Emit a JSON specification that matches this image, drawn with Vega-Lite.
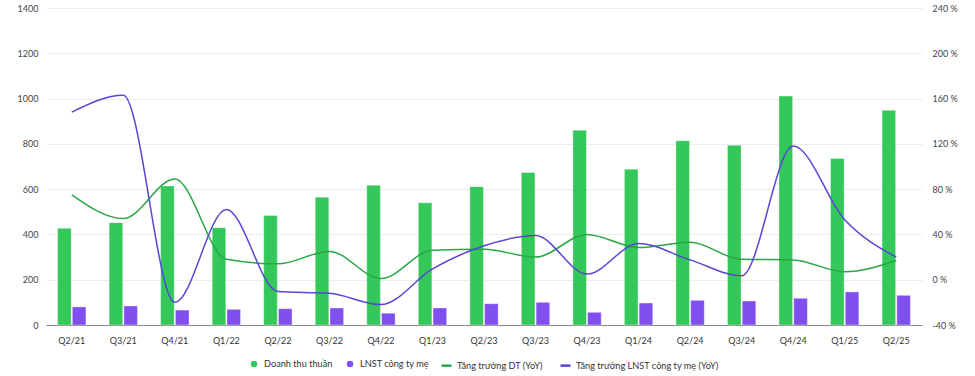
{
  "$schema": "https://vega.github.io/schema/vega-lite/v6.json",
  "width": 876,
  "height": 317,
  "autosize": {"type": "none"},
  "padding": {"left": 46, "top": 8, "right": 53, "bottom": 51},
  "background": "white",
  "config": {
    "font": "Lato",
    "view": {"stroke": null},
    "axis": {"labelFont": "Lato", "labelColor": "#444", "labelFontSize": 9, "titleFont": "Lato"},
    "legend": {"labelFont": "Lato", "layout": {"bottom": {"anchor": "middle", "direction": "horizontal", "margin": 10}}}
  },
  "data": {
    "values": [
      {"q": "Q2/21", "Doanh thu thuần": 427, "LNST công ty mẹ": 80, "Tăng trưởng DT (YoY)": 75, "Tăng trưởng LNST công ty mẹ (YoY)": 148},
      {"q": "Q3/21", "Doanh thu thuần": 452, "LNST công ty mẹ": 84, "Tăng trưởng DT (YoY)": 54, "Tăng trưởng LNST công ty mẹ (YoY)": 163},
      {"q": "Q4/21", "Doanh thu thuần": 614, "LNST công ty mẹ": 66, "Tăng trưởng DT (YoY)": 89, "Tăng trưởng LNST công ty mẹ (YoY)": -20},
      {"q": "Q1/22", "Doanh thu thuần": 430, "LNST công ty mẹ": 69, "Tăng trưởng DT (YoY)": 18, "Tăng trưởng LNST công ty mẹ (YoY)": 62},
      {"q": "Q2/22", "Doanh thu thuần": 484, "LNST công ty mẹ": 72, "Tăng trưởng DT (YoY)": 14, "Tăng trưởng LNST công ty mẹ (YoY)": -10.5},
      {"q": "Q3/22", "Doanh thu thuần": 564, "LNST công ty mẹ": 75, "Tăng trưởng DT (YoY)": 25, "Tăng trưởng LNST công ty mẹ (YoY)": -12},
      {"q": "Q4/22", "Doanh thu thuần": 617, "LNST công ty mẹ": 52, "Tăng trưởng DT (YoY)": 1, "Tăng trưởng LNST công ty mẹ (YoY)": -22},
      {"q": "Q1/23", "Doanh thu thuần": 540, "LNST công ty mẹ": 75, "Tăng trưởng DT (YoY)": 26, "Tăng trưởng LNST công ty mẹ (YoY)": 9.5},
      {"q": "Q2/23", "Doanh thu thuần": 611, "LNST công ty mẹ": 94, "Tăng trưởng DT (YoY)": 27, "Tăng trưởng LNST công ty mẹ (YoY)": 30},
      {"q": "Q3/23", "Doanh thu thuần": 674, "LNST công ty mẹ": 100, "Tăng trưởng DT (YoY)": 20, "Tăng trưởng LNST công ty mẹ (YoY)": 39},
      {"q": "Q4/23", "Doanh thu thuần": 860, "LNST công ty mẹ": 56, "Tăng trưởng DT (YoY)": 40, "Tăng trưởng LNST công ty mẹ (YoY)": 5},
      {"q": "Q1/24", "Doanh thu thuần": 688, "LNST công ty mẹ": 97, "Tăng trưởng DT (YoY)": 28.5, "Tăng trưởng LNST công ty mẹ (YoY)": 32},
      {"q": "Q2/24", "Doanh thu thuần": 814, "LNST công ty mẹ": 109, "Tăng trưởng DT (YoY)": 33, "Tăng trưởng LNST công ty mẹ (YoY)": 17.5},
      {"q": "Q3/24", "Doanh thu thuần": 794, "LNST công ty mẹ": 106, "Tăng trưởng DT (YoY)": 18, "Tăng trưởng LNST công ty mẹ (YoY)": 3.5},
      {"q": "Q4/24", "Doanh thu thuần": 1011, "LNST công ty mẹ": 118, "Tăng trưởng DT (YoY)": 17.5, "Tăng trưởng LNST công ty mẹ (YoY)": 118},
      {"q": "Q1/25", "Doanh thu thuần": 735, "LNST công ty mẹ": 146, "Tăng trưởng DT (YoY)": 7, "Tăng trưởng LNST công ty mẹ (YoY)": 53},
      {"q": "Q2/25", "Doanh thu thuần": 948, "LNST công ty mẹ": 131, "Tăng trưởng DT (YoY)": 17, "Tăng trưởng LNST công ty mẹ (YoY)": 20}
    ]
  },
  "encoding": {
    "x": {
      "field": "q", "type": "nominal", "sort": null, "title": null,
      "scale": {"paddingInner": 0.45, "paddingOuter": 0.225},
      "axis": {"labelAngle": 0, "ticks": false, "domainColor": "#888", "labelPadding": 11, "labelColor": "#333"}
    }
  },
  "layer": [
    {
      "transform": [{"fold": ["Doanh thu thuần", "LNST công ty mẹ"], "as": ["series", "value"]}],
      "mark": {"type": "bar", "stroke": "white", "strokeOpacity": 0.35, "strokeWidth": 1},
      "encoding": {
        "xOffset": {"field": "series", "type": "nominal", "scale": {"paddingInner": 0.08}},
        "y": {
          "field": "value", "type": "quantitative", "title": null,
          "scale": {"domain": [0, 1400]},
          "axis": {"values": [0, 200, 400, 600, 800, 1000, 1200, 1400], "format": "d", "domain": false, "ticks": false, "gridColor": "#ececec", "labelPadding": 8}
        },
        "color": {
          "field": "series", "type": "nominal",
          "scale": {"domain": ["Doanh thu thuần", "LNST công ty mẹ"], "range": ["#34c759", "#7f4ff0"]},
          "legend": {
            "orient": "bottom", "direction": "horizontal", "title": null,
            "offset": 14, "labelFontSize": 9.2, "labelColor": "#333",
            "symbolType": "circle", "symbolSize": 64, "columnPadding": 10, "labelOffset": 5
          }
        }
      }
    },
    {
      "transform": [{"fold": ["Tăng trưởng DT (YoY)", "Tăng trưởng LNST công ty mẹ (YoY)"], "as": ["series", "pct"]}],
      "mark": {"type": "line", "interpolate": "monotone", "strokeWidth": 1.5},
      "encoding": {
        "y": {
          "field": "pct", "type": "quantitative", "title": null,
          "scale": {"domain": [-40, 240]},
          "axis": {"orient": "right", "values": [-40, 0, 40, 80, 120, 160, 200, 240], "labelExpr": "datum.value + ' %'", "domain": false, "ticks": false, "grid": false, "labelPadding": 10}
        },
        "stroke": {
          "field": "series", "type": "nominal",
          "scale": {"domain": ["Tăng trưởng DT (YoY)", "Tăng trưởng LNST công ty mẹ (YoY)"], "range": ["#28a745", "#5547d6"]},
          "legend": {
            "orient": "bottom", "direction": "horizontal", "title": null,
            "offset": 14, "labelFontSize": 9.2, "labelColor": "#333", "labelLimit": 300,
            "symbolType": "stroke", "symbolSize": 100, "symbolStrokeWidth": 2.5, "columnPadding": 12, "labelOffset": 4
          }
        }
      }
    }
  ],
  "resolve": {"scale": {"y": "independent"}}
}
